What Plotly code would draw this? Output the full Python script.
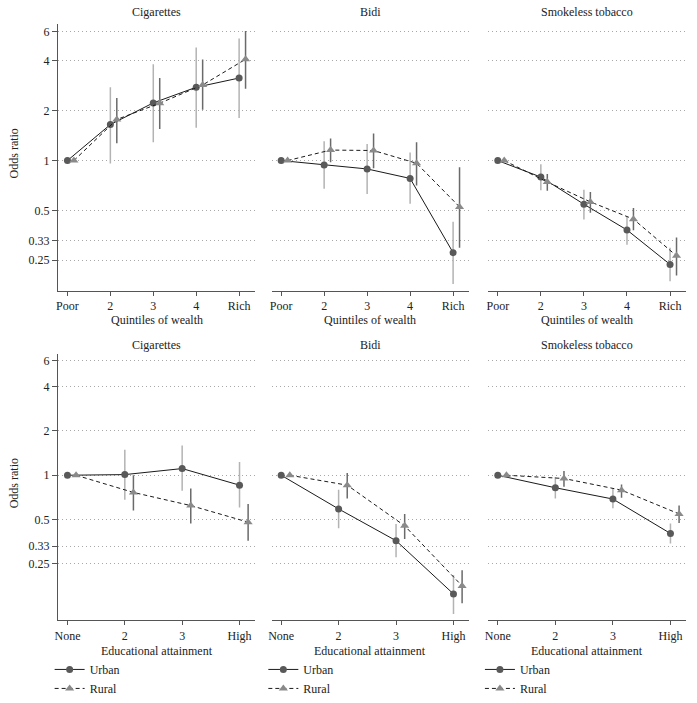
import plotly.graph_objects as go

# ---------------- data ----------------
products = ["Cigarettes", "Bidi", "Smokeless tobacco"]
wealth_labels = ["Poor", "2", "3", "4", "Rich"]
edu_labels = ["None", "2", "3", "High"]
ytick_vals = [0.25, 0.33, 0.5, 1, 2, 4, 6]
ytick_text = ["0.25", "0.33", "0.5", "1", "2", "4", "6"]

# Wealth quintiles: odds ratio, lower CI, upper CI
w_cig_urban = [1, 1.65, 2.23, 2.77, 3.15]
w_cig_urban_lo = [1, 0.96, 1.29, 1.58, 1.81]
w_cig_urban_hi = [1, 2.77, 3.82, 4.81, 5.45]
w_cig_rural = [1, 1.77, 2.22, 2.86, 4.09]
w_cig_rural_lo = [1, 1.27, 1.55, 2.03, 2.71]
w_cig_rural_hi = [1, 2.39, 3.15, 4.08, 6.05]

w_bidi_urban = [1, 0.94, 0.89, 0.78, 0.278]
w_bidi_urban_lo = [1, 0.676, 0.628, 0.548, 0.180]
w_bidi_urban_hi = [1, 1.31, 1.26, 1.12, 0.427]
w_bidi_rural = [1, 1.157, 1.15, 0.963, 0.525]
w_bidi_rural_lo = [1, 0.977, 0.90, 0.708, 0.298]
w_bidi_rural_hi = [1, 1.36, 1.457, 1.29, 0.912]

w_sl_urban = [1, 0.795, 0.545, 0.381, 0.236]
w_sl_urban_lo = [1, 0.661, 0.441, 0.31, 0.187]
w_sl_urban_hi = [1, 0.95, 0.667, 0.456, 0.298]
w_sl_rural = [1, 0.742, 0.563, 0.443, 0.266]
w_sl_rural_lo = [1, 0.657, 0.484, 0.379, 0.202]
w_sl_rural_hi = [1, 0.831, 0.646, 0.518, 0.343]

# Educational attainment
e_cig_urban = [1, 1.01, 1.11, 0.856]
e_cig_urban_lo = [1, 0.682, 0.784, 0.603]
e_cig_urban_hi = [1, 1.49, 1.59, 1.23]
e_cig_rural = [1, 0.764, 0.622, 0.48]
e_cig_rural_lo = [1, 0.575, 0.47, 0.359]
e_cig_rural_hi = [1, 1.0, 0.813, 0.638]

e_bidi_urban = [1, 0.59, 0.359, 0.156]
e_bidi_urban_lo = [1, 0.437, 0.277, 0.114]
e_bidi_urban_hi = [1, 0.797, 0.466, 0.21]
e_bidi_rural = [1, 0.856, 0.453, 0.177]
e_bidi_rural_lo = [1, 0.696, 0.369, 0.135]
e_bidi_rural_hi = [1, 1.036, 0.546, 0.226]

e_sl_urban = [1, 0.822, 0.689, 0.402]
e_sl_urban_lo = [1, 0.696, 0.596, 0.343]
e_sl_urban_hi = [1, 0.974, 0.813, 0.47]
e_sl_rural = [1, 0.95, 0.792, 0.546]
e_sl_rural_lo = [1, 0.834, 0.704, 0.473]
e_sl_rural_hi = [1, 1.07, 0.865, 0.622]

# ---------------- layout helpers ----------------
W, H = 697, 703
FONT = "Liberation Serif"
TXT = "#222222"
AX = "#555555"
URBAN_MARK = "#595959"
RURAL_MARK = "#8a8a8a"
URBAN_CI = "#b3b3b3"
RURAL_CI = "#6a6a6a"
OFFSET = 0.15


def px_x(a, b):
    return [a / W, b / W]


def px_y(top, bottom):
    return [1 - bottom / H, 1 - top / H]


xdom = [px_x(58, 255), px_x(271.7, 469), px_x(488.3, 686)]
ydom_top = px_y(24, 294)
ydom_bot = px_y(357.7, 626.7)

panels = [
    (w_cig_urban, w_cig_urban_lo, w_cig_urban_hi, w_cig_rural, w_cig_rural_lo, w_cig_rural_hi),
    (w_bidi_urban, w_bidi_urban_lo, w_bidi_urban_hi, w_bidi_rural, w_bidi_rural_lo, w_bidi_rural_hi),
    (w_sl_urban, w_sl_urban_lo, w_sl_urban_hi, w_sl_rural, w_sl_rural_lo, w_sl_rural_hi),
    (e_cig_urban, e_cig_urban_lo, e_cig_urban_hi, e_cig_rural, e_cig_rural_lo, e_cig_rural_hi),
    (e_bidi_urban, e_bidi_urban_lo, e_bidi_urban_hi, e_bidi_rural, e_bidi_rural_lo, e_bidi_rural_hi),
    (e_sl_urban, e_sl_urban_lo, e_sl_urban_hi, e_sl_rural, e_sl_rural_lo, e_sl_rural_hi),
]

fig = go.Figure()

for i, (u, ul, uh, r, rl, rh) in enumerate(panels):
    n = i + 1
    sfx = "" if n == 1 else str(n)
    labels = wealth_labels if i < 3 else edu_labels
    xs = list(range(1, len(labels) + 1))
    xr = [x + OFFSET for x in xs]
    bottom = i >= 3
    legend_id = ["legend", "legend2", "legend3"][i - 3] if bottom else None
    common = dict(xaxis="x" + sfx, yaxis="y" + sfx, mode="lines+markers")
    fig.add_trace(go.Scatter(
        x=xs, y=u, name="Urban",
        line=dict(color="#1a1a1a", width=1),
        marker=dict(symbol="circle", size=7, color=URBAN_MARK),
        error_y=dict(type="data", symmetric=False,
                     array=[h - v for h, v in zip(uh, u)],
                     arrayminus=[v - l for v, l in zip(u, ul)],
                     color=URBAN_CI, thickness=1.5, width=0),
        showlegend=bottom, legend=legend_id, **common))
    fig.add_trace(go.Scatter(
        x=xr, y=r, name="Rural",
        line=dict(color="#1a1a1a", width=1, dash="4px,3px"),
        marker=dict(symbol="triangle-up", size=8, color=RURAL_MARK),
        error_y=dict(type="data", symmetric=False,
                     array=[h - v for h, v in zip(rh, r)],
                     arrayminus=[v - l for v, l in zip(r, rl)],
                     color=RURAL_CI, thickness=1.5, width=0),
        showlegend=bottom, legend=legend_id, **common))

    col = i % 3
    xlay = dict(
        domain=xdom[col], anchor="y" + sfx,
        range=[0.78, 5.37] if not bottom else [0.835, 4.27],
        tickvals=xs, ticktext=labels, ticks="outside", ticklen=4,
        tickcolor=AX, showline=True, linecolor=AX, linewidth=1,
        showgrid=False, zeroline=False, automargin=False,
        tickfont=dict(size=12, color=TXT, family=FONT),
    )
    ylay = dict(
        domain=ydom_bot if bottom else ydom_top, anchor="x" + sfx,
        type="log",
        range=[-0.987, 0.823] if bottom else [-0.788, 0.826],
        tickvals=ytick_vals, ticktext=ytick_text,
        showgrid=True, gridcolor="#a8a8a8", gridwidth=1, griddash="1px,3px",
        zeroline=False, automargin=False,
        showline=(col == 0), linecolor=AX, linewidth=1,
        ticks="outside" if col == 0 else "", ticklen=5, tickcolor=AX,
        showticklabels=(col == 0),
        tickfont=dict(size=12, color=TXT, family=FONT),
    )
    fig.layout["xaxis" + sfx] = xlay
    fig.layout["yaxis" + sfx] = ylay

    xc = (xdom[col][0] + xdom[col][1]) / 2
    # panel title
    fig.add_annotation(
        text=products[col], xref="paper", yref="paper",
        x=xc, y=1 - (12 if not bottom else 348) / H,
        showarrow=False, xanchor="center", yanchor="middle",
        font=dict(size=12, color=TXT, family=FONT))
    # x-axis title
    fig.add_annotation(
        text="Quintiles of wealth" if not bottom else "Educational attainment",
        xref="paper", yref="paper",
        x=xc, y=1 - (323 if not bottom else 658) / H,
        showarrow=False, xanchor="center", yanchor="middle",
        font=dict(size=12, color=TXT, family=FONT))

# y-axis titles (left column only)
for ydom in (ydom_top, ydom_bot):
    fig.add_annotation(
        text="Odds ratio", xref="paper", yref="paper",
        x=14 / W, y=(ydom[0] + ydom[1]) / 2 + 4 / H,
        textangle=-90, showarrow=False, xanchor="center", yanchor="middle",
        font=dict(size=12, color=TXT, family=FONT))

legend_style = dict(
    orientation="v", xanchor="left", yanchor="bottom",
    y=-7 / H, bgcolor="rgba(0,0,0,0)",
    font=dict(size=12, color=TXT, family=FONT),
    tracegroupgap=0, itemwidth=30,
)
fig.update_layout(
    width=W, height=H,
    margin=dict(l=0, r=0, t=0, b=0),
    paper_bgcolor="white", plot_bgcolor="white",
    font=dict(family=FONT, size=12, color=TXT),
    legend=dict(x=xdom[0][0] - 0.012, **legend_style),
    legend2=dict(x=xdom[1][0] - 0.012, **legend_style),
    legend3=dict(x=xdom[2][0] - 0.012, **legend_style),
)

fig.write_html("out.html", config={"displayModeBar": False},
               post_script="document.body.style.margin='0px';")
